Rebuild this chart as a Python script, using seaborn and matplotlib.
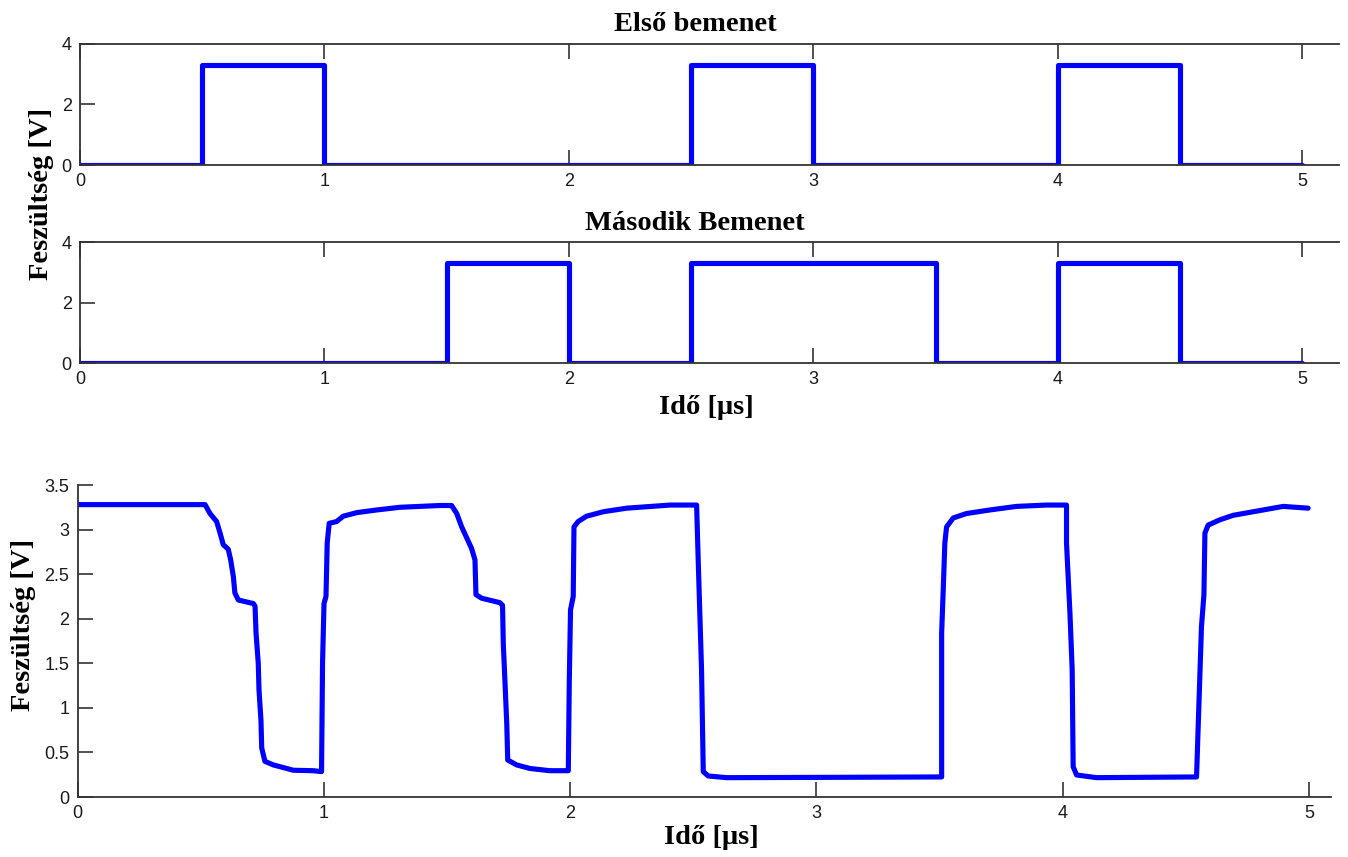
import matplotlib
matplotlib.use("Agg")
import matplotlib.pyplot as plt
import seaborn as sns
import numpy as np

sns.set_style("white")
plt.rcParams["font.family"] = ["Liberation Sans", "DejaVu Sans"]
plt.rcParams["text.color"] = "black"

# Logic inputs: transition times [µs] and the level held from each time on
in1_t = [0.0, 0.5, 1.0, 2.5, 3.0, 4.0, 4.5, 5.0]
in1_v = [0.0, 3.3, 0.0, 3.3, 0.0, 3.3, 0.0, 0.0]
in2_t = [0.0, 1.5, 2.0, 2.5, 3.5, 4.0, 4.5, 5.0]
in2_v = [0.0, 3.3, 0.0, 3.3, 0.0, 3.3, 0.0, 0.0]

# Simulated gate output [V] versus time [µs]
out_t = [0.0, 0.518, 0.538, 0.565, 0.579, 0.592, 0.612, 0.622, 0.633, 0.639,
         0.653, 0.714, 0.721, 0.725, 0.734, 0.737, 0.745, 0.748, 0.761, 0.795,
         0.836, 0.876, 0.957, 0.991, 0.995, 1.001, 1.009, 1.014, 1.022, 1.052,
         1.079, 1.134, 1.215, 1.309, 1.472, 1.519, 1.540, 1.560, 1.600, 1.614,
         1.618, 1.641, 1.715, 1.726, 1.729, 1.736, 1.743, 1.747, 1.783, 1.837,
         1.918, 1.993, 1.997, 2.002, 2.013, 2.016, 2.033, 2.067, 2.135, 2.230,
         2.406, 2.514, 2.520, 2.527, 2.534, 2.541, 2.561, 2.636, 3.000, 3.509,
         3.509, 3.515, 3.522, 3.529, 3.556, 3.610, 3.705, 3.813, 3.935, 4.016,
         4.016, 4.030, 4.039, 4.043, 4.057, 4.138, 4.544, 4.564, 4.574, 4.578,
         4.591, 4.639, 4.693, 4.774, 4.896, 4.997]
out_v = [3.28, 3.28, 3.18, 3.09, 2.96, 2.83, 2.78, 2.66, 2.47, 2.29,
         2.21, 2.17, 2.14, 1.84, 1.50, 1.20, 0.86, 0.55, 0.40, 0.36,
         0.33, 0.30, 0.295, 0.285, 1.50, 2.17, 2.25, 2.85, 3.07, 3.09,
         3.15, 3.19, 3.22, 3.25, 3.27, 3.27, 3.18, 3.03, 2.79, 2.66,
         2.27, 2.23, 2.18, 2.15, 1.72, 1.28, 0.83, 0.415, 0.36, 0.32,
         0.295, 0.295, 1.31, 2.10, 2.25, 3.03, 3.09, 3.15, 3.20, 3.24,
         3.275, 3.275, 2.70, 2.06, 1.43, 0.285, 0.236, 0.217, 0.22, 0.225,
         1.84, 2.29, 2.85, 3.03, 3.13, 3.18, 3.22, 3.26, 3.275, 3.275,
         2.85, 2.06, 1.43, 0.34, 0.247, 0.217, 0.225, 1.91, 2.27, 2.96,
         3.05, 3.11, 3.16, 3.20, 3.26, 3.24]

xticks_top = [0, 1, 2, 3, 4, 5]
yticks_top = [0, 2, 4]
yticks_out = [0, 0.5, 1, 1.5, 2, 2.5, 3, 3.5]
ytick_out_labels = ["0", "0.5", "1", "1.5", "2", "2.5", "3", "3.5"]

W, H = 1348, 857
fig = plt.figure(figsize=(W / 100, H / 100), dpi=100)

serif_bold = dict(family=["Liberation Serif", "DejaVu Serif"], weight="bold",
                  size=20.5, color="black")
line_kw = dict(color="#0000ff", linewidth=3.7, estimator=None, sort=False)
spine_c = "#333333"


def frame(px_left, px_right, px_top, px_bottom):
    return fig.add_axes([px_left / W, 1 - px_bottom / H,
                         (px_right - px_left) / W, (px_bottom - px_top) / H])


def style(ax, top_ticks):
    for side in ("left", "bottom", "top", "right"):
        ax.spines[side].set_color(spine_c)
        ax.spines[side].set_linewidth(1.3)
    ax.spines["right"].set_visible(False)
    if not top_ticks:
        ax.spines["top"].set_visible(False)
    ax.tick_params(direction="in", length=11, width=1.2, color=spine_c,
                   labelsize=13, labelcolor="#1a1a1a", pad=6,
                   top=top_ticks, right=False, left=True, bottom=True)
    ax.set_xlabel("")
    ax.set_ylabel("")


# First input
ax1 = frame(80, 1339, 44, 165)
sns.lineplot(x=in1_t, y=in1_v, drawstyle="steps-post", ax=ax1, **line_kw)
ax1.set_xlim(0, 5.15)
ax1.set_ylim(0, 4)
ax1.set_xticks(xticks_top)
ax1.set_yticks(yticks_top)
style(ax1, True)
ax1.set_title("Első bemenet", pad=9, x=0.4885, **serif_bold)

# Second input
ax2 = frame(80, 1339, 242, 363)
sns.lineplot(x=in2_t, y=in2_v, drawstyle="steps-post", ax=ax2, **line_kw)
ax2.set_xlim(0, 5.15)
ax2.set_ylim(0, 4)
ax2.set_xticks(xticks_top)
ax2.set_yticks(yticks_top)
style(ax2, True)
ax2.set_title("Második Bemenet", pad=9, x=0.4885, **serif_bold)
fig.text(706 / W, 1 - 408 / H, "Idő [μs]", ha="center", va="center", **serif_bold)
fig.text(42 / W, 1 - 194 / H, "Feszültség [V]", rotation=90,
         ha="center", va="center", **serif_bold)

# Gate output
ax3 = frame(77.5, 1331, 485, 797)
sns.lineplot(x=out_t, y=out_v, ax=ax3, **line_kw)
ax3.set_xlim(0, 5.09)
ax3.set_ylim(0, 3.5)
ax3.set_xticks(xticks_top)
ax3.set_yticks(yticks_out)
ax3.set_yticklabels(ytick_out_labels)
style(ax3, False)
fig.text(711 / W, 1 - 838 / H, "Idő [μs]", ha="center", va="center", **serif_bold)
fig.text(24 / W, 1 - 625 / H, "Feszültség [V]", rotation=90,
         ha="center", va="center", **serif_bold)

fig.savefig("out.png", dpi=100, facecolor="white")
